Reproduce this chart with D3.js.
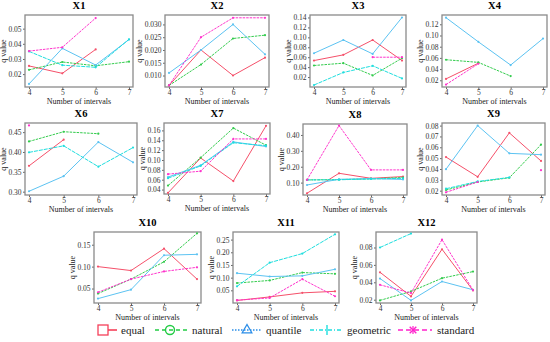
<!DOCTYPE html>
<html>
<head>
<meta charset="utf-8">
<script src="https://cdn.jsdelivr.net/npm/d3@7"></script>
<style>
  body { margin: 0; background: #fff; }
  svg, svg text { font-family: "Liberation Serif", "Times New Roman", Times, "DejaVu Serif", serif; }
</style>
</head>
<body>
<div id="chart"></div>
<script>
// number of intervals on every x axis
const intervals = [4, 5, 6, 7];
const methods = ['equal', 'natural', 'quantile', 'geometric', 'standard'];

// q values per panel, rows in the order of methods, null = no value
const X1 = [
  [0.0254, 0.0205, 0.0363, null],
  [0.0228, 0.0280, 0.0255, 0.0282],
  [0.0135, 0.0370, 0.0260, 0.0428],
  [0.0350, 0.0259, 0.0245, 0.0430],
  [0.0352, 0.0377, 0.0570, null]
];
const X2 = [
  [0.0061, 0.0200, 0.0100, 0.0170],
  [0.0061, 0.0143, 0.0245, 0.0258],
  [0.0110, 0.0200, 0.0300, 0.0183],
  [null, null, null, null],
  [0.0061, 0.0250, 0.0326, 0.0326]
];
const X3 = [
  [0.0533, 0.0647, 0.0947, 0.0533],
  [0.0433, 0.0480, 0.0233, 0.0580],
  [0.0680, 0.0947, 0.0667, 0.1400],
  [0.0040, 0.0293, 0.0427, 0.0173],
  [null, null, 0.0600, 0.0600]
];
const X4 = [
  [0.0225, 0.0505, null, null],
  [0.0567, 0.0520, 0.0275, null],
  [0.1318, 0.0887, 0.0472, 0.0945],
  [null, null, null, null],
  [0.0123, 0.0495, null, null]
];
const X6 = [
  [0.365, 0.431, null, null],
  [0.4265, 0.451, 0.446, null],
  [0.301, 0.339, 0.425, 0.374],
  [0.399, 0.4155, 0.363, 0.411],
  [0.467, null, null, null]
];
const X7 = [
  [0.0333, 0.1040, 0.0573, 0.1693],
  [0.0480, 0.1047, 0.1647, 0.1300],
  [0.0653, 0.0893, 0.1367, 0.1273],
  [0.0630, 0.0880, 0.1350, 0.1290],
  [0.0713, 0.0773, 0.1427, 0.1427]
];
const X8 = [
  [0.033, 0.1587, 0.127, 0.138],
  [0.117, 0.119, 0.124, 0.132],
  [0.085, 0.121, 0.125, 0.120],
  [0.117, 0.118, 0.123, 0.127],
  [0.117, 0.459, 0.180, 0.180]
];
const X9 = [
  [0.0510, 0.0328, 0.0733, 0.0474],
  [0.0206, 0.0280, 0.0319, 0.0624],
  [0.0398, 0.0800, 0.0544, 0.0532],
  [0.0218, 0.0285, 0.0322, null],
  [0.0185, 0.0280, null, 0.0389]
];
const X10 = [
  [0.100, 0.091, 0.141, 0.0715],
  [0.0385, 0.0715, 0.111, 0.176],
  [0.027, 0.0475, 0.126, 0.128],
  [null, null, null, null],
  [0.0415, 0.0715, 0.089, 0.0985]
];
const X11 = [
  [0.010, 0.024, 0.040, 0.046],
  [0.0786, 0.089, 0.120, 0.115],
  [0.1175, 0.1045, 0.107, 0.133],
  [0.0656, 0.159, 0.195, 0.271],
  [0.011, 0.020, 0.094, 0.0266]
];
const X12 = [
  [0.0515, 0.0238, 0.0780, 0.0306],
  [0.0192, 0.0295, 0.0447, 0.0523],
  [0.0443, 0.0192, 0.0409, 0.0314],
  [0.0800, 0.0960, null, null],
  [0.0371, 0.0276, 0.0890, 0.0310]
];

// y tick labels and y extents
const X1_ticks = [0.02, 0.03, 0.04, 0.05];
const X2_ticks = [0.010, 0.015, 0.020, 0.025, 0.030];
const X3_ticks = [0.02, 0.04, 0.06, 0.08, 0.10, 0.12, 0.14];
const X4_ticks = [0.02, 0.04, 0.06, 0.08, 0.10, 0.12];
const X6_ticks = [0.30, 0.35, 0.40, 0.45];
const X7_ticks = [0.04, 0.06, 0.08, 0.10, 0.12, 0.14, 0.16];
const X8_ticks = [0.10, 0.20, 0.30, 0.40];
const X9_ticks = [0.02, 0.03, 0.04, 0.05, 0.06, 0.07, 0.08];
const X10_ticks = [0.05, 0.10, 0.15];
const X11_ticks = [0.05, 0.10, 0.15, 0.20, 0.25];
const X12_ticks = [0.02, 0.04, 0.06, 0.08];

const X1_domain = [0.0115, 0.059];
const X2_domain = [0.0055, 0.0337];
const X3_domain = [0.0, 0.145];
const X4_domain = [0.008, 0.1366];
const X6_domain = [0.2916, 0.473];
const X7_domain = [0.031, 0.175];
const X8_domain = [0.022, 0.469];
const X9_domain = [0.016, 0.0824];
const X10_domain = [0.017, 0.179];
const X11_domain = [0.0, 0.28];
const X12_domain = [0.0162, 0.0978];

const FONT = '"Liberation Serif", "Times New Roman", Times, "DejaVu Serif", serif';

const colors = {
  equal: '#f5506a',
  natural: '#33cc4d',
  quantile: '#5cc3f2',
  geometric: '#1fdede',
  standard: '#ff33cc'
};
const legendColors = {
  equal: '#f5405a',
  natural: '#22cc44',
  quantile: '#2a8de8',
  geometric: '#1fdede',
  standard: '#ff22cc'
};
const dashes = { equal: null, natural: '2.5,1', quantile: null, geometric: '4,1', standard: '2.5,1' };

// plot boxes: [left, top, right, bottom]
const panels = [
  { name: 'X1', data: X1, ticks: X1_ticks, domain: X1_domain, fmt: '.2f', box: [25, 15, 133, 87] },
  { name: 'X2', data: X2, ticks: X2_ticks, domain: X2_domain, fmt: '.3f', box: [165, 15, 269, 87] },
  { name: 'X3', data: X3, ticks: X3_ticks, domain: X3_domain, fmt: '.2f', box: [310, 15, 406, 87] },
  { name: 'X4', data: X4, ticks: X4_ticks, domain: X4_domain, fmt: '.2f', box: [442, 15, 547, 87] },
  { name: 'X6', data: X6, ticks: X6_ticks, domain: X6_domain, fmt: '.2f', box: [25, 123, 137, 195] },
  { name: 'X7', data: X7, ticks: X7_ticks, domain: X7_domain, fmt: '.2f', box: [164, 123, 270, 194] },
  { name: 'X8', data: X8, ticks: X8_ticks, domain: X8_domain, fmt: '.2f', box: [303, 124, 407, 195] },
  { name: 'X9', data: X9, ticks: X9_ticks, domain: X9_domain, fmt: '.2f', box: [442, 123, 545, 195] },
  { name: 'X10', data: X10, ticks: X10_ticks, domain: X10_domain, fmt: '.2f', box: [94, 232, 201, 303] },
  { name: 'X11', data: X11, ticks: X11_ticks, domain: X11_domain, fmt: '.2f', box: [233, 232, 339, 303] },
  { name: 'X12', data: X12, ticks: X12_ticks, domain: X12_domain, fmt: '.2f', box: [376, 232, 477, 303] }
];

const svg = d3.select('#chart').append('svg')
  .attr('width', 550)
  .attr('height', 342)
  .attr('font-family', FONT);

panels.forEach(p => {
  const [x0, y0, x1, y1] = p.box;
  const g = svg.append('g');

  const xscale = d3.scaleLinear().domain([4, 7]).range([x0 + 4, x1 - 4]);
  const yscale = d3.scaleLinear().domain(p.domain).range([y1, y0]);

  // x axis
  const xAxis = g.append('g')
    .attr('transform', `translate(0,${y1})`)
    .call(d3.axisBottom(xscale).tickValues(intervals).tickFormat(d3.format('d')).tickSize(2).tickPadding(1));
  // y axis
  const yAxis = g.append('g')
    .attr('transform', `translate(${x0},0)`)
    .call(d3.axisLeft(yscale).tickValues(p.ticks).tickFormat(d3.format(p.fmt)).tickSize(2).tickPadding(1.5));

  [xAxis, yAxis].forEach(a => {
    a.attr('font-family', FONT).attr('font-size', 7.5);
    a.select('.domain').remove();
    a.selectAll('line').attr('stroke', '#666');
    a.selectAll('text').attr('fill', '#333');
  });

  // frame
  g.append('rect')
    .attr('x', x0).attr('y', y0)
    .attr('width', x1 - x0).attr('height', y1 - y0)
    .attr('fill', 'none')
    .attr('stroke', '#8a8a8a')
    .attr('stroke-width', 1.3);

  // lines
  const line = d3.line()
    .defined(d => d.v != null)
    .x(d => xscale(d.x))
    .y(d => yscale(d.v));

  p.data.forEach((vals, i) => {
    const m = methods[i];
    const pts = intervals.map((x, j) => ({ x: x, v: vals[j] }));
    g.append('path')
      .datum(pts)
      .attr('d', line)
      .attr('fill', 'none')
      .attr('stroke', colors[m])
      .attr('stroke-width', 1)
      .attr('stroke-dasharray', dashes[m]);
    g.selectAll(null)
      .data(pts.filter(d => d.v != null))
      .enter().append('circle')
      .attr('cx', d => xscale(d.x))
      .attr('cy', d => yscale(d.v))
      .attr('r', 1.1)
      .attr('fill', colors[m]);
  });

  // title
  g.append('text')
    .attr('x', (x0 + x1) / 2)
    .attr('y', y0 - 6)
    .attr('text-anchor', 'middle')
    .attr('font-size', 10.5)
    .attr('font-weight', 'bold')
    .text(p.name);

  // x label
  g.append('text')
    .attr('x', (x0 + x1) / 2)
    .attr('y', y1 + 17)
    .attr('text-anchor', 'middle')
    .attr('font-size', 8)
    .attr('fill', '#222')
    .text('Number of intervals');

  // y label
  const off = p.fmt === '.3f' ? 23 : 19;
  g.append('text')
    .attr('transform', `translate(${x0 - off},${(y0 + y1) / 2}) rotate(-90)`)
    .attr('text-anchor', 'middle')
    .attr('font-size', 8)
    .attr('fill', '#222')
    .text('q value');
});

// legend
const legendItems = [
  { m: 'equal', x1: 98, x2: 117, mx: 103, tx: 121, dash: null },
  { m: 'natural', x1: 155, x2: 187, mx: 170, tx: 192, dash: '4,3' },
  { m: 'quantile', x1: 232, x2: 262, mx: 247, tx: 266, dash: '1.5,1.5' },
  { m: 'geometric', x1: 310, x2: 343, mx: 327, tx: 347, dash: '4,2,1,2' },
  { m: 'standard', x1: 398, x2: 432, mx: 413, tx: 437, dash: '5,3' }
];
const ly = 330;
const legend = svg.append('g');
legendItems.forEach(it => {
  const c = legendColors[it.m];
  legend.append('line')
    .attr('x1', it.x1).attr('x2', it.x2)
    .attr('y1', ly).attr('y2', ly)
    .attr('stroke', c).attr('stroke-width', 1.6)
    .attr('stroke-dasharray', it.dash);
  if (it.m === 'equal') {
    legend.append('rect').attr('x', it.mx - 5).attr('y', ly - 5).attr('width', 10).attr('height', 10)
      .attr('fill', '#fff').attr('stroke', c).attr('stroke-width', 1.3);
  } else if (it.m === 'natural') {
    legend.append('circle').attr('cx', it.mx).attr('cy', ly).attr('r', 4.5)
      .attr('fill', 'none').attr('stroke', c).attr('stroke-width', 1.4);
  } else if (it.m === 'quantile') {
    legend.append('path').attr('d', d3.symbol(d3.symbolTriangle, 40)())
      .attr('transform', `translate(${it.mx},${ly})`)
      .attr('fill', 'none').attr('stroke', c).attr('stroke-width', 1.3);
  } else if (it.m === 'geometric') {
    legend.append('path').attr('d', `M${it.mx},${ly - 5}V${ly + 5}`)
      .attr('stroke', c).attr('stroke-width', 1.4);
  } else {
    legend.append('path').attr('d', d3.symbol(d3.symbolX, 30)())
      .attr('transform', `translate(${it.mx},${ly})`)
      .attr('stroke', c).attr('stroke-width', 1.4);
    legend.append('path').attr('d', `M${it.mx},${ly - 4}V${ly + 4}`)
      .attr('stroke', c).attr('stroke-width', 1.2);
  }
  legend.append('text')
    .attr('x', it.tx).attr('y', ly + 3.5)
    .attr('font-size', 11)
    .attr('fill', '#222')
    .text(it.m);
});
</script>
</body>
</html>
